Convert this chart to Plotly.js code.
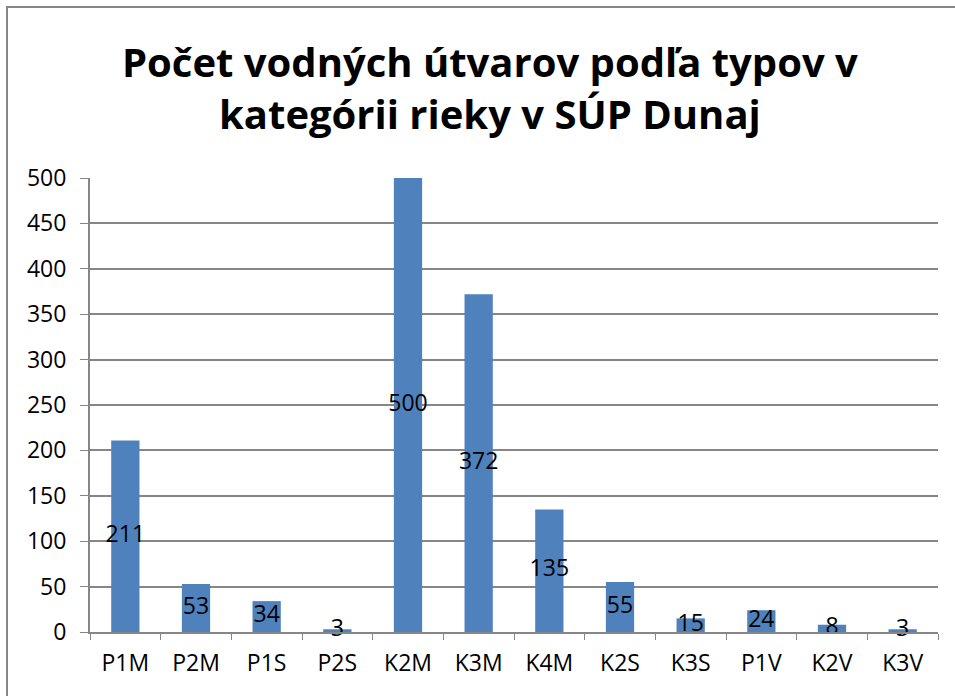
<!DOCTYPE html>
<html>
<head>
<meta charset="utf-8">
<script src="https://cdn.plot.ly/plotly-3.0.1.min.js"></script>
<style>html,body{margin:0;padding:0;background:#fff;}#chart{width:955px;height:696px;}</style>
</head>
<body>
<div id="chart"></div>
<script>
const categories = ["P1M","P2M","P1S","P2S","K2M","K3M","K4M","K2S","K3S","P1V","K2V","K3V"];
const counts = [211,53,34,3,500,372,135,55,15,24,8,3];
const yTicks = [0,50,100,150,200,250,300,350,400,450,500];

const fontFam = "Open Sans, Liberation Sans, sans-serif";
const L = 90, R = 17, T = 178, B = 64, W = 955, H = 696;
const pw = W - L - R, ph = H - T - B;

const bars = {
  type: "bar", x: categories, y: counts,
  marker: {color: "#4F81BD", line: {width: 0}},
  hoverinfo: "x+y", showlegend: false
};
const labels = {
  type: "scatter", mode: "text", x: categories,
  y: counts.map(v => v / 2),
  text: counts.map(String),
  textposition: "middle center",
  cliponaxis: false,
  textfont: {family: fontFam, size: 23, color: "#000"},
  hoverinfo: "skip", showlegend: false
};

const layout = {
  width: W, height: H,
  margin: {l: L, r: R, t: T, b: B, autoexpand: false},
  paper_bgcolor: "#fff", plot_bgcolor: "#fff",
  bargap: 0.6,
  title: {
    text: "<b>Počet vodných útvarov podľa typov v<br>kategórii rieky v SÚP Dunaj</b>",
    font: {family: fontFam, size: 40, color: "#000"},
    x: 0.513, xanchor: "center", y: 0.89, yanchor: "top", automargin: false
  },
  xaxis: {
    type: "category", range: [-0.5, categories.length - 0.5],
    tickson: "boundaries", ticks: "outside", ticklen: 6,
    tickcolor: "#868686", showline: true, linecolor: "#868686", linewidth: 2,
    showgrid: false, tickfont: {family: fontFam, size: 23, color: "#000"},
    ticklabelstandoff: 9, fixedrange: true, automargin: false
  },
  yaxis: {
    range: [0, 500], tickvals: yTicks, ticks: "outside", ticklen: 8,
    tickcolor: "#868686", showline: true, linecolor: "#868686", linewidth: 2,
    gridcolor: "#868686", gridwidth: 2, zeroline: false,
    tickfont: {family: fontFam, size: 23, color: "#000"},
    ticklabelstandoff: 9, fixedrange: true, automargin: false
  },
  shapes: [{
    type: "rect", xref: "paper", yref: "paper",
    x0: (7 - L) / pw, x1: (W + 20 - L) / pw,
    y0: -(B + 20) / ph, y1: (H - 7 - B) / ph,
    line: {color: "#868686", width: 2}, fillcolor: "rgba(0,0,0,0)", layer: "below"
  }]
};

Plotly.newPlot("chart", [bars, labels], layout, {displayModeBar: false, staticPlot: true});
</script>
</body>
</html>
